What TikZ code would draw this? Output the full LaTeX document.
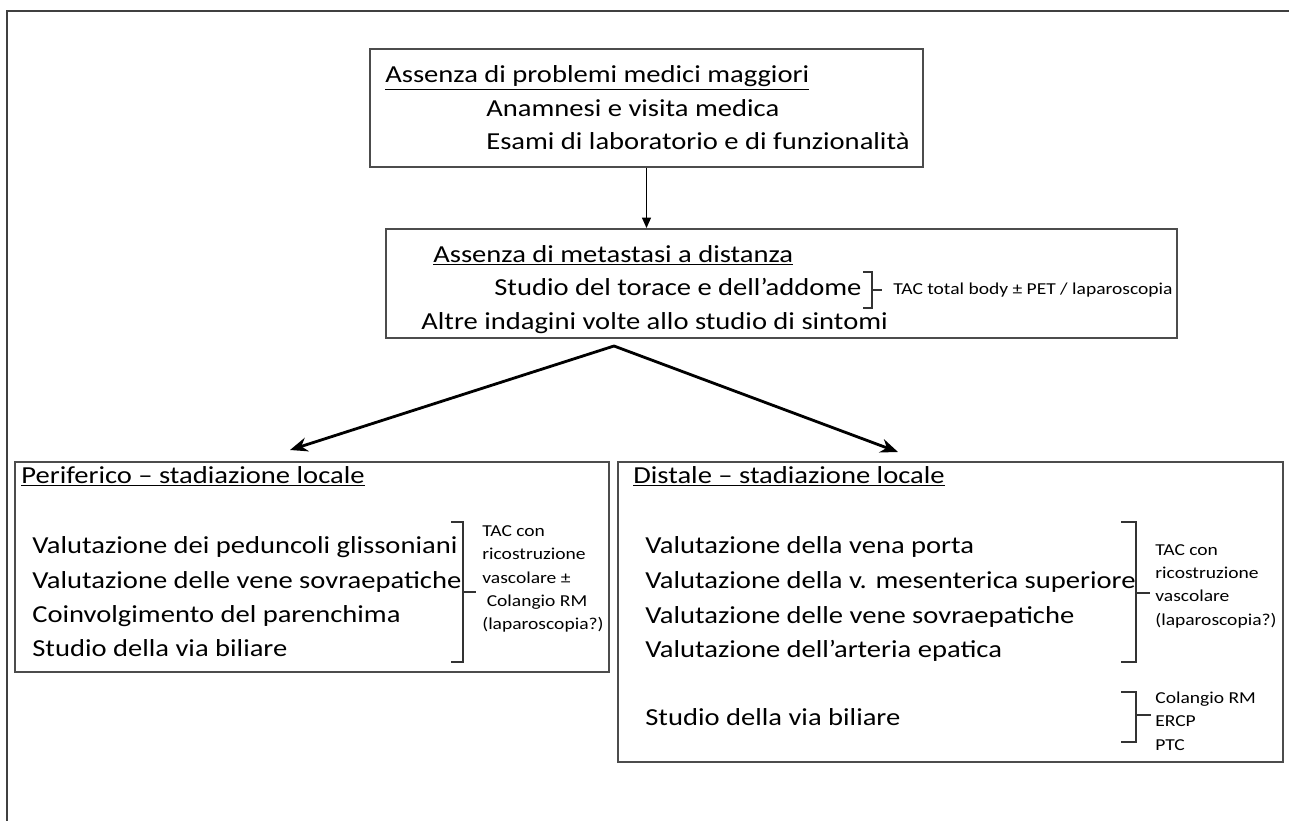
\documentclass[tikz,border=0pt]{standalone}
\usepackage{fontspec}
\setmainfont{Carlito}[FakeStretch=1.17]
\usetikzlibrary{fit, arrows.meta}

\tikzset{
	box/.style={draw=black!70, line width=1pt, inner sep=0pt},
	txt/.style={anchor=base west, inner sep=0pt, font=\fontsize{13.9}{16}\selectfont},
	note/.style={anchor=west, inner sep=0pt, align=left, font=\fontsize{9.5}{13.3}\selectfont},
	brak/.style={draw=black!80, line width=0.8pt},
	flow/.style={line width=1.6pt, line join=miter},
}

\begin{document}
\begin{tikzpicture}[x=0.02cm, y=-0.02cm]
		\useasboundingbox (0,0) rectangle (1289,821);
		\draw[black!75, line width=1.2pt] (7,821) -- (7,11) -- (1289,11);
		
		% pre-operative checks
		\node[box, fit={(370,49) (923,167)}] (exam) {};
		\node[txt] (examT) at (385,83) {\underline{Assenza di problemi medici maggiori}};
		\node[txt] (examA) at (486,117) {Anamnesi e visita medica};
		\node[txt] (examB) at (486,150) {Esami di laboratorio e di funzionalità};
		
		\node[box, fit={(386,229) (1177,338)}] (meta) {};
		\node[txt] (metaT) at (433,262) {\underline{Assenza di metastasi a distanza}};
		\node[txt] (metaA) at (494,296) {Studio del torace e dell’addome};
		\node[txt] (metaB) at (421,329) {Altre indagini volte allo studio di sintomi};
		\draw[brak] (863,272) -- (872,272) -- (872,308) -- (863,308);
		\draw[brak] (872,290) -- (882,290);
		\node[note] (metaN) at (893,290) {TAC total body ± PET / laparoscopia};
		
		\draw[line width=1.1pt, -{Triangle[length=6pt,width=5pt]}] (exam.south) -- (exam.south |- meta.north);
		
		% local staging
		\node[box, fit={(15,462) (609,672)}] (perif) {};
		\node[txt] (perifT) at (21,483) {\underline{Periferico – stadiazione locale}};
		\node[txt] (perifA) at (32,553) {Valutazione dei peduncoli glissoniani};
		\node[txt] (perifB) at (32,588) {Valutazione delle vene sovraepatiche};
		\node[txt] (perifC) at (32,622) {Coinvolgimento del parenchima};
		\node[txt] (perifD) at (32,656) {Studio della via biliare};
		\draw[brak] (451,522) -- (463,522) -- (463,662) -- (451,662);
		\draw[brak] (463,592) -- (476,592);
		\node[note] (perifN) at (482,579) {TAC con\\ricostruzione\\vascolare ±\\\ Colangio RM\\(laparoscopia?)};
		
		\node[box, fit={(618,462) (1283,762)}] (dist) {};
		\node[txt] (distT) at (633,483) {\underline{Distale – stadiazione locale}};
		\node[txt] (distA) at (645,553) {Valutazione della vena porta};
		\node[txt] (distB) at (645,588) {Valutazione della v. mesenterica superiore};
		\node[txt] (distC) at (645,623) {Valutazione delle vene sovraepatiche};
		\node[txt] (distD) at (645,657) {Valutazione dell’arteria epatica};
		\node[txt] (distE) at (645,725) {Studio della via biliare};
		\draw[brak] (1121,522) -- (1136,522) -- (1136,662) -- (1121,662);
		\draw[brak] (1136,593) -- (1150,593);
		\node[note] (distN) at (1155,586) {TAC con\\ricostruzione\\vascolare\\(laparoscopia?)};
		\draw[brak] (1121,692) -- (1136,692) -- (1136,742) -- (1121,742);
		\draw[brak] (1136,715) -- (1151,715);
		\node[note] (distM) at (1155,721) {Colangio RM\\ERCP\\PTC};
		
		\coordinate (split) at (614,346);
		\coordinate (tipL) at (290,450);
		\coordinate (tipR) at (898,452);
		\draw[flow, {Stealth[length=10pt,width=8pt]}-{Stealth[length=10pt,width=8pt]}] (tipL) -- (split) -- (tipR);
	\end{tikzpicture}
\end{document}
